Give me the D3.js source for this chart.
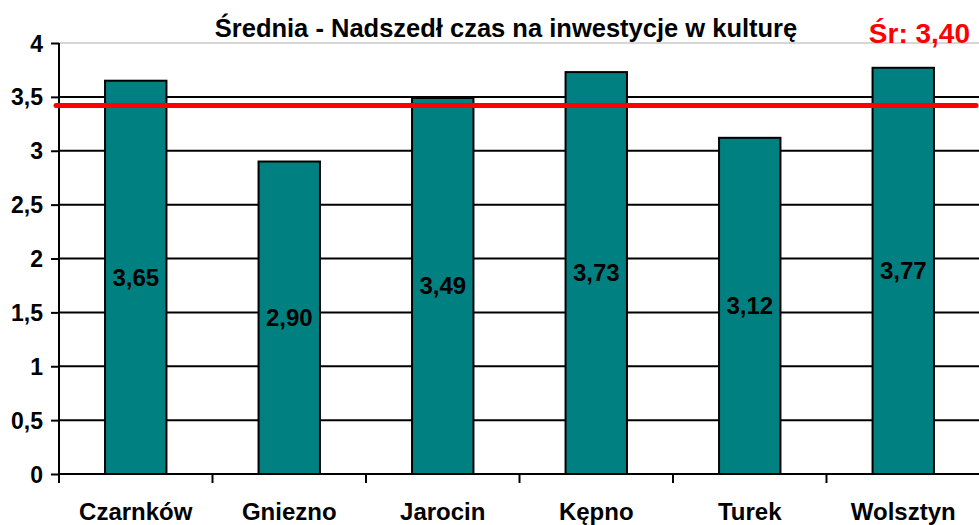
<!DOCTYPE html>
<html>
<head>
<meta charset="utf-8">
<script src="https://cdn.jsdelivr.net/npm/d3@7"></script>
<style>
  body { margin: 0; background: #fff; }
  svg { display: block; font-family: "Liberation Sans", Arial, sans-serif; font-weight: bold; }
</style>
</head>
<body>
<svg id="chart" width="979" height="525"></svg>
<script>
// Dane
const categories = ['Czarnków', 'Gniezno', 'Jarocin', 'Kępno', 'Turek', 'Wolsztyn'];
const values = [3.65, 2.90, 3.49, 3.73, 3.12, 3.77];
const yTicks = [0, 0.5, 1, 1.5, 2, 2.5, 3, 3.5, 4];
const meanValue = [3.42];
const meanLabel = 'Śr: 3,40';
const title = 'Średnia - Nadszedł czas na inwestycje w kulturę';

const fmt = v => d3.format('.2f')(v).replace('.', ',');
const fmtTick = v => String(v).replace('.', ',');

const svg = d3.select('#chart');
const plot = { left: 59, right: 980, top: 43, bottom: 474 };

const x = d3.scaleBand()
    .domain(categories)
    .range([plot.left, plot.right])
    .paddingInner(0.6)
    .paddingOuter(0.3);

const y = d3.scaleLinear()
    .domain([0, 4])
    .range([plot.bottom, plot.top]);

// Linie siatki
svg.append('g')
    .selectAll('line')
    .data(yTicks.filter(d => d > 0))
    .enter().append('line')
    .attr('x1', plot.left)
    .attr('x2', plot.right)
    .attr('y1', d => y(d))
    .attr('y2', d => y(d))
    .attr('stroke', d => d === 4 ? '#c8c8c8' : '#000')
    .attr('stroke-width', d => d === 4 ? 1.5 : 2);

// Słupki
svg.append('g')
    .selectAll('rect')
    .data(values)
    .enter().append('rect')
    .attr('x', (d, i) => x(categories[i]))
    .attr('y', d => y(d))
    .attr('width', x.bandwidth())
    .attr('height', d => y(0) - y(d))
    .attr('fill', '#008080')
    .attr('stroke', '#000')
    .attr('stroke-width', 2);

// Oś Y
const yAxis = svg.append('g')
    .attr('transform', `translate(${plot.left},0)`)
    .call(d3.axisLeft(y).tickValues(yTicks).tickSize(8).tickFormat(fmtTick));
yAxis.select('.domain').attr('stroke', '#000').attr('stroke-width', 2).attr('d', `M0,${plot.top}V${plot.bottom}`);
yAxis.selectAll('.tick line').attr('stroke', '#000').attr('stroke-width', 2);
yAxis.selectAll('.tick text')
    .attr('x', -16)
    .attr('dy', '0.35em')
    .style('font-size', '23px')
    .style('font-family', '"Liberation Sans", Arial, sans-serif')
    .style('font-weight', 'bold')
    .attr('fill', '#000');

// Oś X
const xAxis = svg.append('g')
    .attr('transform', `translate(0,${plot.bottom})`);
xAxis.append('line')
    .attr('x1', plot.left).attr('x2', plot.right)
    .attr('stroke', '#000').attr('stroke-width', 2);
const gap = x.step() - x.bandwidth();
xAxis.selectAll('.xtick')
    .data(categories)
    .enter().append('line')
    .attr('class', 'xtick')
    .attr('x1', d => x(d) - gap / 2)
    .attr('x2', d => x(d) - gap / 2)
    .attr('y1', 0).attr('y2', 9)
    .attr('stroke', '#000').attr('stroke-width', 2);
xAxis.selectAll('.xlabel')
    .data(categories)
    .enter().append('text')
    .attr('class', 'xlabel')
    .attr('x', d => x(d) + x.bandwidth() / 2)
    .attr('y', 46)
    .attr('text-anchor', 'middle')
    .style('font-size', '24px')
    .text(d => d);

// Etykiety wartości
svg.append('g')
    .selectAll('text')
    .data(values)
    .enter().append('text')
    .attr('x', (d, i) => x(categories[i]) + x.bandwidth() / 2)
    .attr('y', d => (y(d) + y(0)) / 2)
    .attr('dy', '0.35em')
    .attr('text-anchor', 'middle')
    .style('font-size', '24px')
    .text(d => fmt(d));

// Linia średniej
svg.append('g')
    .selectAll('line')
    .data(meanValue)
    .enter().append('line')
    .attr('x1', 56)
    .attr('x2', 976)
    .attr('y1', d => y(d))
    .attr('y2', d => y(d))
    .attr('stroke', '#ff0000')
    .attr('stroke-width', 5)
    .attr('stroke-linecap', 'round');

// Tytuł
svg.append('text')
    .attr('x', 506)
    .attr('y', 37)
    .attr('text-anchor', 'middle')
    .style('font-size', '25.5px')
    .text(title);

svg.append('text')
    .attr('x', 970)
    .attr('y', 43)
    .attr('text-anchor', 'end')
    .attr('fill', '#ff0000')
    .style('font-size', '28px')
    .text(meanLabel);
</script>
</body>
</html>
